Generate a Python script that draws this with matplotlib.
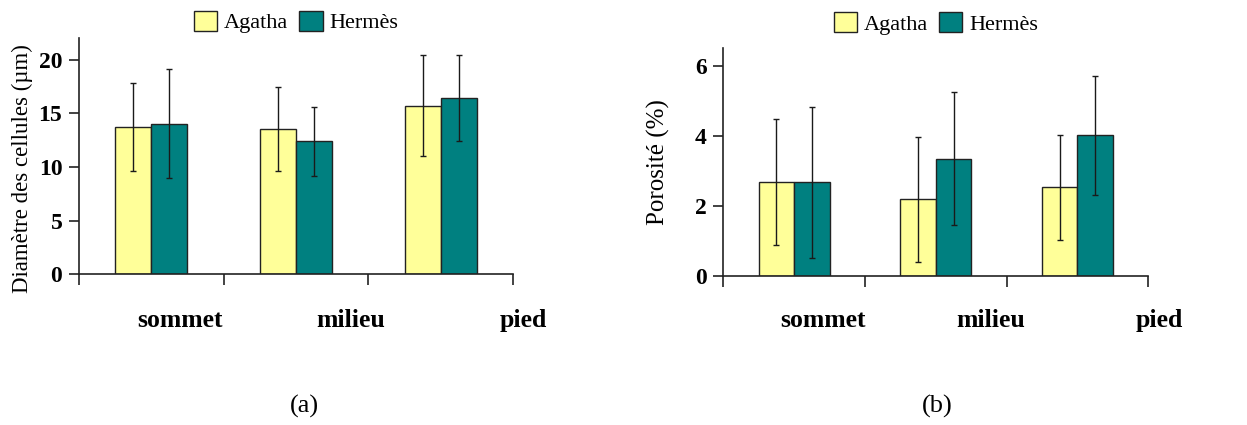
import matplotlib
matplotlib.use("Agg")
import matplotlib.pyplot as plt
import numpy as np

plt.rcParams['font.family'] = ['Liberation Serif', 'DejaVu Serif']

categories = ["sommet", "milieu", "pied"]
series = ["Agatha", "Hermès"]

diam_agatha = [13.7, 13.55, 15.7]
diam_agatha_err = [4.1, 3.95, 4.7]
diam_hermes = [14.05, 12.4, 16.45]
diam_hermes_err = [5.1, 3.2, 4.0]

poro_agatha = [2.69, 2.18, 2.53]
poro_agatha_err = [1.8, 1.78, 1.5]
poro_hermes = [2.67, 3.35, 4.02]
poro_hermes_err = [2.16, 1.89, 1.7]

colors = ["#FFFF99", "#008080"]

fig = plt.figure(figsize=(12.47, 4.25), dpi=100)
W, H = 1247, 425

def make_ax(x0, x1, ybot, ytop):
    return fig.add_axes([x0 / W, 1 - ybot / H, (x1 - x0) / W, (ybot - ytop) / H])

axL = make_ax(79, 513, 274.3, 38.3)
axR = make_ax(723.3, 1148.3, 275.7, 48.3)

def draw(ax, a, ae, h, he, ylim, yticks, ylabel, leg_y, lab_x, panel, panel_x, ylab_x, ylab_y, ylab_fs):
    x = np.arange(len(categories))
    w = 0.25
    ax.bar(x - w / 2, a, w, color=colors[0], edgecolor="#222222", linewidth=1.0, label=series[0], zorder=2)
    ax.bar(x + w / 2, h, w, color=colors[1], edgecolor="#222222", linewidth=1.0, label=series[1], zorder=2)
    ax.errorbar(x - w / 2, a, yerr=ae, fmt="none", ecolor="#1a1a1a", elinewidth=1.0, capsize=2, capthick=1.0, zorder=3)
    ax.errorbar(x + w / 2, h, yerr=he, fmt="none", ecolor="#1a1a1a", elinewidth=1.0, capsize=2, capthick=1.0, zorder=3)
    ax.set_xlim(-0.5, len(categories) - 0.5)
    ax.set_ylim(*ylim)
    ax.set_yticks(yticks)
    ax.set_yticklabels([str(t) for t in yticks], fontsize=17, fontweight="bold")
    ax.set_xticks(np.arange(len(categories) + 1) - 0.5)
    ax.set_xticklabels([])
    ax.tick_params(axis="x", direction="out", length=8, width=1.2, color="#222222")
    ax.tick_params(axis="y", direction="out", length=7, width=1.2, color="#222222", pad=5)
    for s in ["top", "right"]:
        ax.spines[s].set_visible(False)
    for s in ["left", "bottom"]:
        ax.spines[s].set_color("#222222")
        ax.spines[s].set_linewidth(1.2)
    for xf, c in zip(lab_x, categories):
        ax.text(xf, -0.195, c, transform=ax.transAxes, ha="center", va="center",
                fontsize=18.5, fontweight="bold")
    ax.legend(loc="center", bbox_to_anchor=(0.5, leg_y), ncol=2, frameon=False,
              fontsize=16, handlelength=1.05, handleheight=1.05, handletextpad=0.3,
              columnspacing=0.5, borderaxespad=0)
    fig.text(panel_x / W, 1 - 406 / H, panel, ha="center", va="center", fontsize=19)
    ax.set_ylabel(ylabel, fontsize=ylab_fs)
    ax.yaxis.set_label_coords(ylab_x, ylab_y)

draw(axL, diam_agatha, diam_agatha_err, diam_hermes, diam_hermes_err,
     (0, 22), [0, 5, 10, 15, 20], "Diamètre des cellules (µm)", 1.069,
     [0.233, 0.627, 1.023], "(a)", 304, -0.107, 0.45, 16.5)
draw(axR, poro_agatha, poro_agatha_err, poro_hermes, poro_hermes_err,
     (0, 6.5), [0, 2, 4, 6], "Porosité (%)", 1.111,
     [0.235, 0.63, 1.025], "(b)", 937, -0.125, 0.5, 18)

fig.savefig("out.png", dpi=100, facecolor="white")
